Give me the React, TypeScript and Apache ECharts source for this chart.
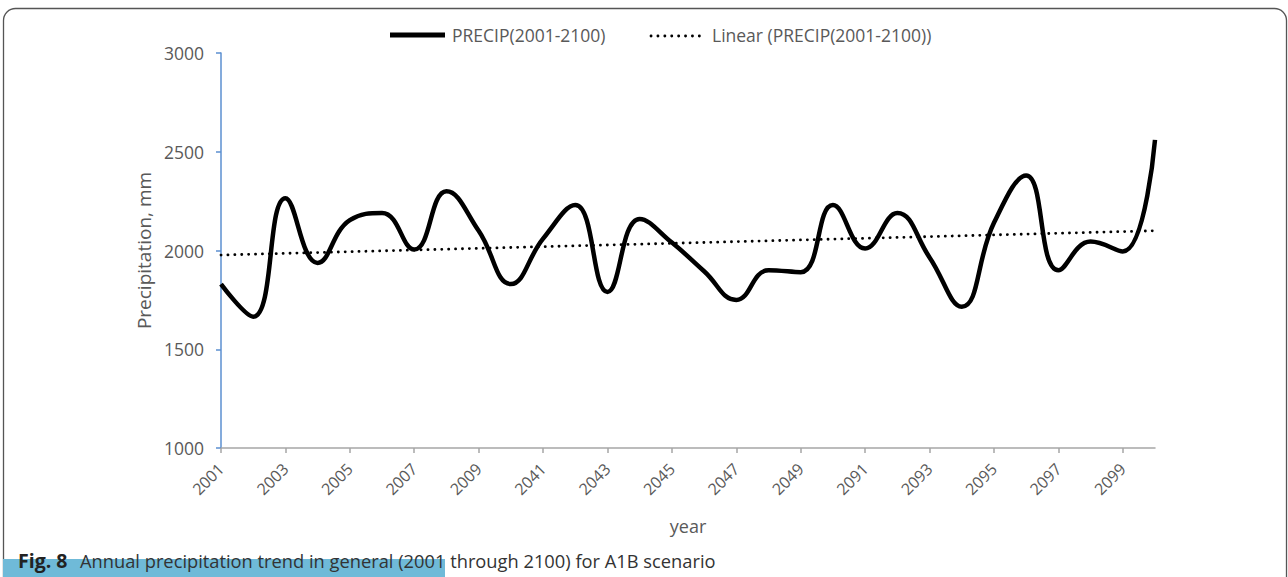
import React, { useEffect, useRef } from "react";
import * as echarts from "echarts";

const years: string[] = [
  "2001", "2002", "2003", "2004", "2005", "2006", "2007", "2008", "2009", "2010",
  "2041", "2042", "2043", "2044", "2045", "2046", "2047", "2048", "2049", "2050",
  "2091", "2092", "2093", "2094", "2095", "2096", "2097", "2098", "2099", "2100",
];

const precip: number[] = [
  1830, 1665, 2265, 1937, 2154, 2190, 2005, 2300, 2100, 1830,
  2060, 2230, 1790, 2160, 2040, 1895, 1750, 1900, 1890, 2230,
  2010, 2190, 1965, 1715, 2140, 2380, 1900, 2045, 1995, 2560,
];

// Linear trend end points
const trendStart = 1977;
const trendEnd = 2100;

const yTicks = { min: 1000, max: 3000, interval: 500 };

const seriesNames = ["PRECIP(2001-2100)", "Linear (PRECIP(2001-2100))"];

const FONT = "'Open Sans', 'Noto Sans', sans-serif";

export default function App() {
  const ref = useRef<HTMLDivElement>(null);
  useEffect(() => {
    if (!ref.current) return;
    const chart = echarts.init(ref.current, undefined, { renderer: "svg" });
    const trendData = [
      [years[0], trendStart],
      [years[years.length - 1], trendEnd],
    ];
    chart.setOption({
      animation: false,
      backgroundColor: "#ffffff",
      textStyle: { fontFamily: FONT },
      grid: { left: 221, right: 133, top: 53, bottom: 129, containLabel: false },
      legend: { show: false },
      xAxis: {
        type: "category",
        data: years,
        boundaryGap: false,
        name: "year",
        nameLocation: "middle",
        nameGap: 69,
        nameTextStyle: { color: "#595959", fontSize: 18, fontFamily: FONT },
        axisLine: { lineStyle: { color: "#a6a6a6", width: 1.5 } },
        axisTick: { show: true, interval: 1, length: 5, lineStyle: { color: "#a6a6a6", width: 1.5 } },
        axisLabel: {
          interval: 1,
          rotate: 45,
          color: "#595959",
          fontSize: 16,
          margin: 18,
          fontFamily: FONT,
        },
        splitLine: { show: false },
      },
      yAxis: {
        type: "value",
        min: yTicks.min,
        max: yTicks.max,
        interval: yTicks.interval,
        name: "Precipitation, mm",
        nameLocation: "middle",
        nameGap: 64,
        nameTextStyle: { color: "#595959", fontSize: 19, fontFamily: FONT },
        axisLine: { show: true, lineStyle: { color: "#5b8fd0", width: 1.5 } },
        axisTick: { show: true, length: 5, lineStyle: { color: "#5b8fd0", width: 1.5 } },
        axisLabel: {
          color: "#595959",
          fontSize: 17.5,
          margin: 17,
          fontFamily: FONT,
          formatter: (v: number) => String(v),
        },
        splitLine: { show: false },
      },
      series: [
        {
          name: seriesNames[0],
          type: "line",
          data: precip,
          smooth: 0.45,
          symbol: "none",
          lineStyle: { color: "#000000", width: 4.5 },
          itemStyle: { color: "#000000" },
          z: 3,
        },
        {
          name: seriesNames[1],
          type: "line",
          data: trendData,
          symbol: "none",
          lineStyle: { color: "#000000", width: 2.8, type: [0.1, 6.8], cap: "round" },
          itemStyle: { color: "#000000" },
          z: 2,
        },
      ],
      graphic: [
        {
          type: "rect",
          shape: { x: 3.5, y: 8.5, width: 1283, height: 600, r: [12, 12, 0, 0] },
          style: { fill: "none", stroke: "#555555", lineWidth: 1.3 },
          silent: true,
        },
        // legend
        {
          type: "line",
          shape: { x1: 390, y1: 35, x2: 445, y2: 35 },
          style: { stroke: "#000000", lineWidth: 5 },
          silent: true,
        },
        {
          type: "text",
          x: 452,
          y: 35,
          style: {
            text: seriesNames[0],
            fontFamily: FONT,
            fontSize: 17.5,
            fill: "#595959",
            verticalAlign: "middle",
          },
          silent: true,
        },
        {
          type: "line",
          shape: { x1: 651, y1: 36, x2: 706, y2: 36 },
          style: { stroke: "#000000", lineWidth: 2.8, lineDash: [0.1, 6.8], lineCap: "round" },
          silent: true,
        },
        {
          type: "text",
          x: 712,
          y: 35,
          style: {
            text: seriesNames[1],
            fontFamily: FONT,
            fontSize: 17.5,
            fill: "#595959",
            verticalAlign: "middle",
          },
          silent: true,
        },
        // caption
        {
          type: "rect",
          shape: { x: 3, y: 559, width: 442, height: 18 },
          style: { fill: "#6fbad8" },
          silent: true,
        },
        {
          type: "text",
          x: 18,
          y: 560,
          style: {
            text: "Fig. 8",
            fontFamily: FONT,
            fontWeight: "bold",
            fontSize: 19.5,
            fill: "#222222",
            verticalAlign: "middle",
          },
          silent: true,
        },
        {
          type: "text",
          x: 80,
          y: 560,
          style: {
            text: "Annual precipitation trend in general (2001 through 2100) for A1B scenario",
            fontFamily: FONT,
            fontSize: 18.3,
            fill: "#333333",
            verticalAlign: "middle",
          },
          silent: true,
        },
      ],
    });
    return () => chart.dispose();
  }, []);
  return (
    <div
      ref={ref}
      style={{ position: "absolute", left: 0, top: 0, width: 1288, height: 577 }}
    />
  );
}
